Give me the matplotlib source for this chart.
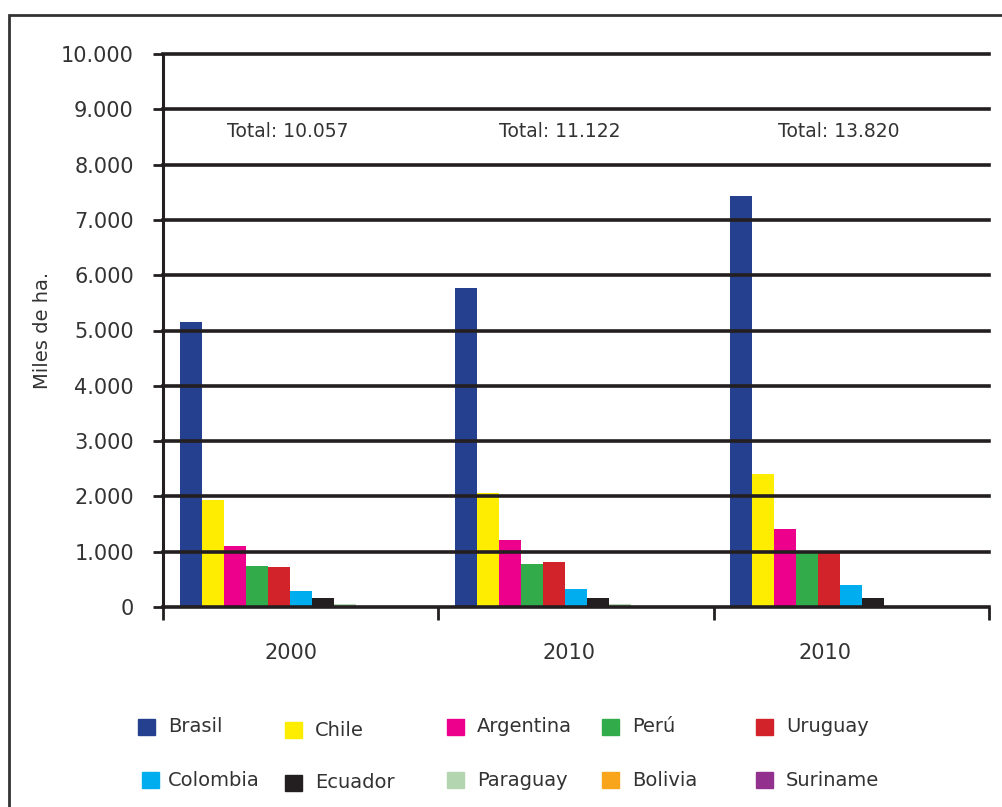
import numpy as np
import matplotlib
matplotlib.use("Agg")
import matplotlib.pyplot as plt
from matplotlib.patches import Rectangle

# datos (miles de ha.)
paises = ['Brasil', 'Chile', 'Argentina', 'Perú', 'Uruguay',
          'Colombia', 'Ecuador', 'Paraguay', 'Bolivia', 'Suriname']
colores = ['#24408e', '#ffed00', '#ec008c', '#32ab4b', '#d2232a',
           '#00aeef', '#231f20', '#b3d6b0', '#f9a51b', '#93328e']
anios = ['2000', '2010', '2010']
totales = ['Total: 10.057', 'Total: 11.122', 'Total: 13.820']

brasil = [5150, 5770, 7430]
chile = [1930, 2070, 2400]
argentina = [1100, 1220, 1410]
peru = [750, 770, 980]
uruguay = [715, 810, 980]
colombia = [290, 330, 400]
ecuador = [160, 160, 165]
paraguay = [60, 50, 25]
bolivia = [25, 25, 25]
suriname = [25, 25, 25]
series = [brasil, chile, argentina, peru, uruguay,
          colombia, ecuador, paraguay, bolivia, suriname]

yticks = np.arange(0, 10001, 1000)

txt = '#333333'
plt.rcParams['font.family'] = ['DejaVu Sans']

fig = plt.figure(figsize=(10.03, 8.07), dpi=100)
ax = fig.add_axes([163/1003, 1-607/807, (989-163)/1003, (607-54)/807])

x = np.arange(len(anios))
w = 0.08
for i, vals in enumerate(series):
    ax.bar(x - 0.44 + i*w, vals, width=w, align='edge', color=colores[i],
           zorder=2, linewidth=0)

# lineas horizontales por encima de las barras
for t in yticks:
    ax.axhline(t, color='#231f20', lw=2.6, zorder=3, clip_on=False)

ax.set_xlim(-0.5, 2.5)
ax.set_ylim(0, 10000)
ax.set_yticks(yticks)
ax.set_yticklabels(['{:,}'.format(t).replace(',', '.') for t in yticks],
                   fontsize=15, color=txt)
ax.tick_params(axis='y', length=7, width=2, color='#231f20', pad=14)

# marcas de separacion entre grupos y etiquetas de año
ax.set_xticks([-0.5, 0.5, 1.5, 2.5], minor=True)
ax.tick_params(axis='x', which='minor', length=9, width=2, color='#231f20')
ax.set_xticks(x + np.array([-0.036, -0.025, -0.095]))
ax.set_xticklabels(anios, fontsize=15, color=txt)
ax.tick_params(axis='x', which='major', length=0, pad=26)

for s in ['top', 'right', 'bottom']:
    ax.spines[s].set_visible(False)
ax.spines['left'].set_linewidth(2.2)
ax.spines['left'].set_color('#231f20')
ax.spines['left'].set_zorder(4)

for i, t in enumerate(totales):
    ax.text(x[i] + [-0.047, -0.058, -0.047][i], 8600, t, ha='center',
            va='center', fontsize=13.5, color=txt)

fig.text(42/1003, 1-330/807, 'Miles de ha.', rotation=90, ha='center',
         va='center', fontsize=14, color=txt)

# leyenda manual en 2 filas x 5 columnas
col_x = [138, 285, 447, 602, 756]
fila_y = [727, 780]
for i, p in enumerate(paises):
    cx = col_x[i % 5] + (4 if i == 5 else 0)
    cy = fila_y[i // 5] + (3 if i in (1, 6) else 0)
    fig.add_artist(Rectangle((cx/1003, 1-(cy+8)/807), 17/1003, 16/807,
                             transform=fig.transFigure, color=colores[i]))
    fig.text((col_x[i % 5] + 30)/1003, 1-cy/807, p, ha='left', va='center',
             fontsize=14, color=txt)

# marco exterior
fig.add_artist(Rectangle((9/1003, -0.1), 1.2, 1.1 - 15/807,
                         transform=fig.transFigure, fill=False,
                         edgecolor='#333333', lw=2))

fig.savefig('out.png', dpi=100)
